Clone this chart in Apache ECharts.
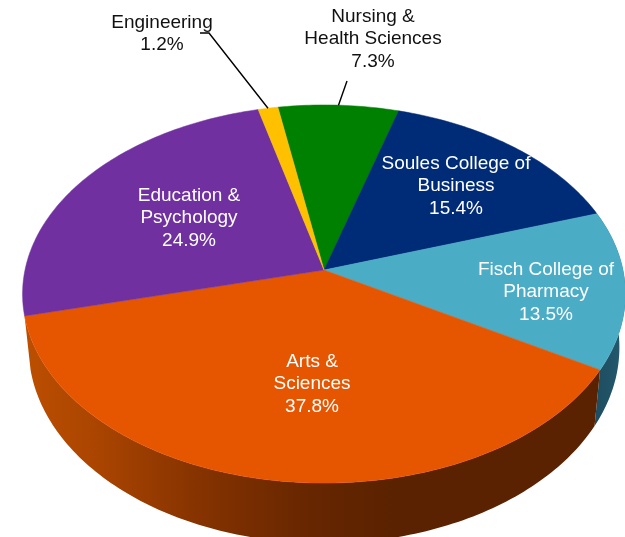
<!DOCTYPE html>
<html>
<head>
<meta charset="utf-8">
<style>html,body{margin:0;padding:0;background:#fff}#c{width:625px;height:537px}</style>
<script src="https://cdn.jsdelivr.net/npm/echarts@6/dist/echarts.min.js"></script>
</head>
<body>
<div id="c"></div>
<script>
// Data, clockwise from the Nursing slice
const categories = ['Nursing &\nHealth Sciences', 'Soules College of\nBusiness', 'Fisch College of\nPharmacy', 'Arts &\nSciences', 'Education &\nPsychology', 'Engineering'];
const shares = [7.3, 15.4, 13.5, 37.8, 24.9, 1.2];

// Styling and layout
const topColors = ['#008000', '#002b76', '#4bacc6', '#e65500', '#7030a0', '#ffc000'];
const labelColors = ['#111111', '#ffffff', '#ffffff', '#ffffff', '#ffffff', '#111111'];
const labelCentres = [[373, 39], [456, 186], [546, 292], [312, 384], [189, 218], [162, 34]];
const leaderStarts = [[[347, 81]], null, null, null, null, [[200, 33], [209, 33]]];
const wallFills = [null, null,
  {type:'linear',x:590,y:0,x2:625,y2:0,global:true,colorStops:[{offset:0,color:'#1c4a5c'},{offset:1,color:'#245a70'}]},
  {type:'linear',x:25,y:0,x2:600,y2:0,global:true,colorStops:[
    {offset:0,color:'#bc4f00'},{offset:0.13,color:'#a94400'},{offset:0.3,color:'#863300'},
    {offset:0.5,color:'#662600'},{offset:0.65,color:'#5a2200'},{offset:1,color:'#5a2200'}]},
  null, null];

const START = -10, CX = 324, CY = 270, A = 299, B = 186, K = 0.127;
const DEPTH = 52.5, SHRINK = 0.98;
const total = shares.reduce((s, v) => s + v, 0);

function rim(deg, lower) {
  const t = deg * Math.PI / 180, u = Math.sin(t), v = -Math.cos(t), w = 1 - K * v;
  const x = A * u / w, y = B * v / w;
  return lower ? [CX + x * SHRINK, CY + y + DEPTH / w] : [CX + x, CY + y];
}
function sliceAngles(i) {
  let a = START;
  for (let j = 0; j < i; j++) a += shares[j] / total * 360;
  return [a, a + shares[i] / total * 360];
}
function arc(a0, a1, lower) {
  const n = Math.max(2, Math.ceil(a1 - a0)), pts = [];
  for (let s = 0; s <= n; s++) pts.push(rim(a0 + (a1 - a0) * s / n, lower));
  return pts;
}
const seriesData = categories.map((c, i) => [i, shares[i]]);
const base = {type:'custom', coordinateSystem:'none', data:seriesData, silent:true, animation:false};

const option = {
  animation:false,
  backgroundColor:'#ffffff',
  series:[
    Object.assign({}, base, {z:1, renderItem(p){
      const i = p.dataIndex, fill = wallFills[i];
      if (!fill) return {type:'group', children:[]};
      const [a0, a1] = sliceAngles(i);
      const pts = arc(a0, a1, false).concat(arc(a0, a1, true).reverse());
      return {type:'polygon', shape:{points:pts}, style:{fill}};
    }}),
    Object.assign({}, base, {z:2, renderItem(p){
      const i = p.dataIndex, [a0, a1] = sliceAngles(i);
      const pts = [[CX, CY]].concat(arc(a0, a1, false));
      return {type:'polygon', shape:{points:pts}, style:{fill:topColors[i], stroke:topColors[i], lineWidth:0.5}};
    }}),
    Object.assign({}, base, {z:3, renderItem(p, api){
      const i = p.dataIndex, [a0, a1] = sliceAngles(i), c = labelCentres[i];
      const children = [{type:'text', style:{
        text:categories[i] + '\n' + api.value(1).toFixed(1) + '%',
        x:c[0], y:c[1], align:'center', verticalAlign:'middle',
        fill:labelColors[i], fontFamily:'"Liberation Sans", Arial, sans-serif', fontSize:19, lineHeight:22.5
      }}];
      if (leaderStarts[i]) {
        const pts = leaderStarts[i].concat([rim((a0 + a1) / 2, false)]);
        children.push({type:'polyline', shape:{points:pts}, style:{stroke:'#000000', lineWidth:1.4, fill:'none'}});
      }
      return {type:'group', children};
    }})
  ]
};
const chart = echarts.init(document.getElementById('c'), null, {renderer:'canvas'});
chart.setOption(option);
</script>
</body>
</html>
